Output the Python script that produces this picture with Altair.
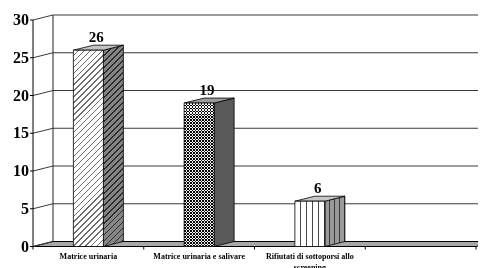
import altair as alt
import pandas as pd

# ---------------- data ----------------
categories = ["Matrice urinaria", "Matrice urinaria e salivare",
              "Rifiutati di sottoporsi allo\nscreening", ""]
values = [26, 19, 6]
y_ticks = [0, 5, 10, 15, 20, 25, 30]
y_top = 30

# ---------------- geometry (styling) ----------------
W, H = 470, 260
PX_X, PX_Y = 110.75, 7.55          # px per category / per unit
X0, Y0 = 25, 238.5                 # front origin inside the view (px)
XMIN, XMAX = -X0 / PX_X, (W - X0) / PX_X
YMIN, YMAX = -(H - Y0) / PX_Y, Y0 / PX_Y
DX, DY = 20 / PX_X, 5 / PX_Y       # 3-D depth offset
HW = 15 / PX_X                     # half bar width
TKX, TKY = 3 / PX_X, 3 / PX_Y
NCAT = len(categories)
FONT = "Liberation Serif"

xs = alt.Scale(domain=[XMIN, XMAX], nice=False, zero=False)
ys = alt.Scale(domain=[YMIN, YMAX], nice=False, zero=False)


def X(f):
    return alt.X(f"{f}:Q", scale=xs, axis=None)


def Y(f):
    return alt.Y(f"{f}:Q", scale=ys, axis=None)


def stripe_stops(base, line, n, r):
    stops = []
    for k in range(n):
        s, m, e = k / n, (k + 1 - r) / n, (k + 1) / n
        stops += [alt.GradientStop(color=base, offset=s),
                  alt.GradientStop(color=base, offset=m),
                  alt.GradientStop(color=line, offset=m),
                  alt.GradientStop(color=line, offset=e)]
    return stops


def vgrad(base, line, n, r):
    return alt.LinearGradient(gradient="linear", stops=stripe_stops(base, line, n, r),
                              x1=0, y1=0, x2=1, y2=0)


def hgrad(base, line, n, r):
    return alt.LinearGradient(gradient="linear", stops=stripe_stops(base, line, n, r),
                              x1=0, y1=0, x2=0, y2=1)


def dgrad(base, line, w_px, h_px, spacing, r=0.3):
    q = w_px / h_px
    s = (1 + q) / (1 + q * q)
    n = max(1, round((w_px + h_px) / 2 ** 0.5 / spacing))
    return alt.LinearGradient(gradient="linear", stops=stripe_stops(base, line, n, r),
                              x1=0, y1=0, x2=q * s, y2=s)


# ---------------- frames ----------------
bars = pd.DataFrame({"i": range(len(values)), "cat": categories[:len(values)], "v": values})
bars["xc"] = bars["i"] + 0.5
bars["xl"] = bars["xc"] - HW
bars["xr"] = bars["xc"] + HW
bars["y0"] = 0.0
bars["lx"] = bars["xc"] + 0.07
bars["ly"] = bars["v"] + DY

side_rows, top_rows = [], []
for _, b in bars.iterrows():
    side_rows += [dict(i=b.i, x=b.xr, lo=0.0, hi=b.v),
                  dict(i=b.i, x=b.xr + DX, lo=DY, hi=b.v + DY)]
    top_rows += [dict(i=b.i, y=b.v, xa=b.xl, xb=b.xr),
                 dict(i=b.i, y=b.v + DY, xa=b.xl + DX, xb=b.xr + DX)]
side = pd.DataFrame(side_rows)
top = pd.DataFrame(top_rows)

ticks = pd.DataFrame({"t": y_ticks})
ticks["yb"] = ticks["t"] + DY
ticks["x0"] = 0.0
ticks["xd"] = DX
ticks["xe"] = XMAX
ticks["xt"] = -TKX
ticks["lab"] = ticks["t"].astype(str)

floor_df = pd.DataFrame({"y": [0.0, DY], "xa": [0.0, DX], "xb": [NCAT, NCAT + DX]})
edge_df = pd.DataFrame({"x": [DX], "y": [DY], "y2": [y_top + DY]})
axis_df = pd.DataFrame({"x": [0.0], "y": [-TKY], "y2": [float(y_top)]})
xt_df = pd.DataFrame({"x": [float(k) for k in range(1, NCAT + 1)], "y": [0.0] * NCAT,
                      "y2": [-TKY] * NCAT})
cat_df = pd.DataFrame({"cat": categories, "xc": [k + 0.5 for k in range(NCAT)], "y": [0.0] * NCAT})

# ---------------- layers ----------------
floor = alt.Chart(floor_df).mark_area(orient="horizontal", fill="#a8a8a8", stroke="#000",
                                      strokeWidth=1, clip=True).encode(
    y=Y("y"), x=X("xa"), x2="xb")

grid = alt.Chart(ticks[ticks.t > 0]).mark_rule(color="#3a3a3a", strokeWidth=1).encode(
    x=X("xd"), x2="xe", y=Y("yb"))
diag = alt.Chart(ticks).mark_rule(color="#3a3a3a", strokeWidth=1).encode(
    x=X("x0"), x2="xd", y=Y("t"), y2="yb")
edge = alt.Chart(edge_df).mark_rule(color="#222", strokeWidth=1).encode(
    x=X("x"), y=Y("y"), y2="y2")

layers = [floor, grid, diag, edge]

side_fill = [dgrad("#858585", "#2e2e2e", 20, values[0] * PX_Y + 5, 4.2, 0.3),
             "#5a5a5a",
             vgrad("#9a9a9a", "#3a3a3a", 4, 0.25)]
top_fill = ["#c4c4c4", "#9c9c9c", "#c8c8c8"]
front_fill = [dgrad("#ffffff", "#6e6e6e", 30, values[0] * PX_Y, 4.2, 0.22),
              vgrad("#ffffff", "#111111", 10, 0.5),
              vgrad("#ffffff", "#4a4a4a", 5, 0.2)]

for k in range(len(values)):
    sd = side[side.i == k]
    td = top[top.i == k]
    bd = bars[bars.i == k]
    layers.append(alt.Chart(sd).mark_area(orient="vertical", fill=side_fill[k], stroke="#000",
                                          strokeWidth=0.8).encode(x=X("x"), y=Y("hi"), y2="lo"))
    layers.append(alt.Chart(td).mark_area(orient="horizontal", fill=top_fill[k], stroke="#000",
                                          strokeWidth=0.8).encode(y=Y("y"), x=X("xa"), x2="xb"))
    layers.append(alt.Chart(bd).mark_rect(fill=front_fill[k]).encode(
        x=X("xl"), x2="xr", y=Y("y0"), y2="v"))
    if k == 1:
        n_h = max(1, round(values[1] * PX_Y / 3))
        layers.append(alt.Chart(bd).mark_rect(
            fill=hgrad("rgba(255,255,255,0)", "#ffffff", n_h, 0.5), blend="difference").encode(
            x=X("xl"), x2="xr", y=Y("y0"), y2="v"))
    layers.append(alt.Chart(bd).mark_rect(fillOpacity=0, stroke="#000", strokeWidth=0.8).encode(
        x=X("xl"), x2="xr", y=Y("y0"), y2="v"))

front_axis = alt.Chart(axis_df).mark_rule(color="#000", strokeWidth=1).encode(
    x=X("x"), y=Y("y"), y2="y2")
ytk = alt.Chart(ticks).mark_rule(color="#000", strokeWidth=1).encode(
    x=X("xt"), x2="x0", y=Y("t"))
xtk = alt.Chart(xt_df).mark_rule(color="#000", strokeWidth=1).encode(
    x=X("x"), y=Y("y"), y2="y2")

ylab = alt.Chart(ticks).mark_text(font=FONT, fontWeight="bold", fontSize=16, align="right",
                                  baseline="middle", dx=-1, color="#000").encode(
    x=X("xt"), y=Y("t"), text="lab:N")
vlab = alt.Chart(bars).mark_text(font=FONT, fontWeight="bold", fontSize=15, align="center",
                                 baseline="bottom", dy=0, color="#000").encode(
    x=X("lx"), y=Y("ly"), text="v:Q")
clab = alt.Chart(cat_df).mark_text(font=FONT, fontWeight="bold", fontSize=8, align="center",
                                   baseline="top", dy=6, lineBreak="\n", lineHeight=11,
                                   color="#000").encode(
    x=X("xc"), y=Y("y"), text="cat:N")

layers += [front_axis, ytk, xtk, ylab, vlab, clab]

chart = alt.layer(*layers).properties(
    width=W, height=H, padding=0, autosize=alt.AutoSizeParams(type="none"),
    background="#ffffff",
).configure_view(stroke=None)

chart.save("out.html", embed_options={"renderer": "svg", "actions": False})
